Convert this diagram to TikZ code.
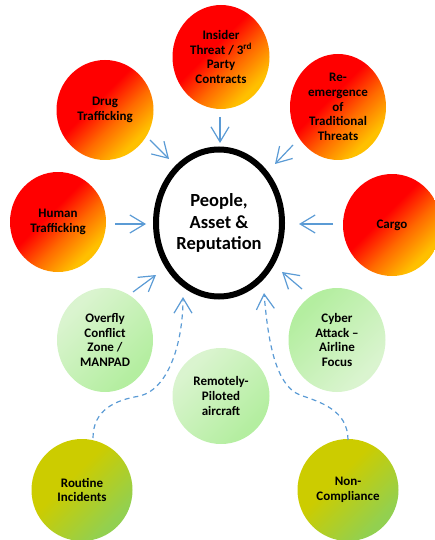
\documentclass[tikz,border=0pt]{standalone}
\usepackage{fontspec}
\setmainfont{Carlito}
\usetikzlibrary{shapes.geometric,arrows.meta}
\definecolor{arrblue}{HTML}{5B9BD5}
\definecolor{ryred}{HTML}{FF0000}
\definecolor{ryorange}{HTML}{FF6A00}
\definecolor{ryyellow}{HTML}{FFC000}
\definecolor{lgl}{HTML}{DAF4CF}
\definecolor{lgd}{HTML}{B4EEA0}
\definecolor{olA}{HTML}{CCCC00}
\definecolor{olB}{HTML}{92D050}
\pgfdeclarehorizontalshading{redyel}{100bp}{color(0bp)=(ryred); color(44bp)=(ryred); color(58bp)=(ryorange); color(72bp)=(ryyellow); color(100bp)=(ryyellow)}
\pgfdeclarehorizontalshading{grnA}{100bp}{color(0bp)=(lgl); color(28bp)=(lgl); color(72bp)=(lgd); color(100bp)=(lgd)}
\pgfdeclarehorizontalshading{olv}{100bp}{color(0bp)=(olA); color(42bp)=(olA); color(72bp)=(olB); color(100bp)=(olB)}
\tikzset{
  bubble/.style={ellipse, inner sep=0pt, align=center, text=black,
    font=\bfseries\fontsize{13}{14.6}\selectfont},
  hot/.style={bubble, shading=redyel, shading angle=-45},
  cool/.style={bubble, shading=grnA, shading angle=-45},
  coolrev/.style={bubble, shading=grnA, shading angle=135},
  olive/.style={bubble, shading=olv, shading angle=-45},
  arr/.style={draw=arrblue, line width=1.2pt, -{Straight Barb[length=15pt,width=18pt]}},
  dsh/.style={arr, dash pattern=on 5pt off 4pt},
}
\begin{document}
\begin{tikzpicture}[x=1pt,y=-1pt]
\useasboundingbox (0,0) rectangle (435,540);
% outer bubbles
\node[hot, minimum width=97pt, minimum height=104pt] (insider) at (221,57) {Insider\\Threat / 3\textsuperscript{rd}\\Party\\Contracts};
\node[hot, minimum width=96pt, minimum height=106pt] (reemerg) at (338,107) {Re-\\emergence\\of\\Traditional\\Threats};
\node[hot, minimum width=97pt, minimum height=100pt] (drug) at (105,110) {Drug\\Trafficking};
\node[hot, minimum width=96pt, minimum height=100pt] (human) at (58,222) {Human\\Trafficking};
\node[hot, minimum width=98pt, minimum height=102pt] (cargo) at (392,225) {Cargo};
\node[cool, minimum width=96pt, minimum height=104pt] (overfly) at (105,340) {Overfly\\Conflict\\Zone /\\MANPAD};
\node[coolrev, minimum width=97pt, minimum height=104pt] (cyber) at (337,340) {Cyber\\Attack --\\Airline\\Focus};
\node[cool, minimum width=97pt, minimum height=96pt] (rpa) at (221,396) {Remotely-\\Piloted\\aircraft};
\node[olive, minimum width=101pt, minimum height=102pt] (routine) at (82,490) {Routine\\Incidents};
\node[olive, minimum width=101pt, minimum height=102pt] (noncomp) at (348,490) {Non-\\Compliance};
% core
\node[ellipse, draw=black, line width=6pt, fill=white, minimum width=126pt, minimum height=147pt, inner sep=0pt, align=center, font=\bfseries\fontsize{18.5}{21.5}\selectfont] (core) at (219,223) {People,\\Asset \&\\Reputation};
% arrow end points
\coordinate (a1s) at (220,117); \coordinate (a1e) at (220,143);
\coordinate (a2s) at (150,140); \coordinate (a2e) at (169,159);
\coordinate (a3s) at (293,145); \coordinate (a3e) at (275,164);
\coordinate (a4s) at (115,224); \coordinate (a4e) at (146,224);
\coordinate (a5s) at (333,224); \coordinate (a5e) at (299,224);
\coordinate (a6s) at (133,292); \coordinate (a6e) at (156,275);
\coordinate (a7s) at (302,289); \coordinate (a7e) at (282,272);
\coordinate (d1s) at (93,438); \coordinate (d1e) at (183,297);
\coordinate (d2s) at (348,440); \coordinate (d2e) at (264,293);
\draw[arr] (a1s) -- (a1e);
\draw[arr] (a2s) -- (a2e);
\draw[arr] (a3s) -- (a3e);
\draw[arr] (a4s) -- (a4e);
\draw[arr] (a5s) -- (a5e);
\draw[arr] (a6s) -- (a6e);
\draw[arr] (a7s) -- (a7e);
\draw[dsh] (d1s) .. controls (93,410) and (115,400) .. (140,396) .. controls (170,388) and (183,340) .. (d1e);
\draw[dsh] (d2s) .. controls (348,410) and (320,402) .. (300,395) .. controls (275,385) and (268,340) .. (d2e);
\end{tikzpicture}
\end{document}
